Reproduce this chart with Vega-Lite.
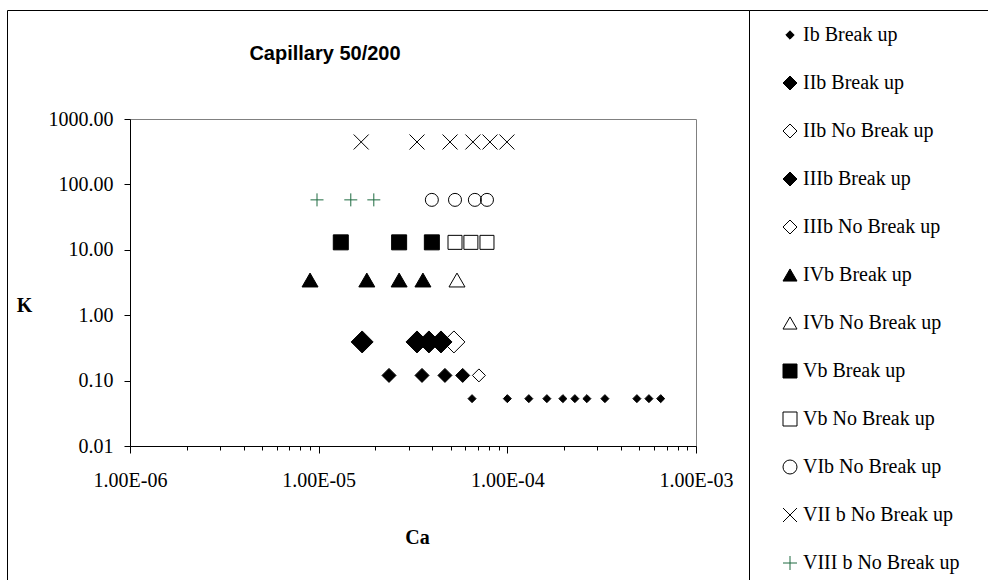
{
  "$schema": "https://vega.github.io/schema/vega-lite/v6.json",
  "width": 566,
  "height": 327,
  "autosize": {"type": "none"},
  "padding": {"left": 130, "top": 119, "right": 292, "bottom": 134},
  "background": "white",
  "title": {
    "text": "Capillary 50/200",
    "font": "Liberation Sans",
    "fontSize": 20,
    "fontWeight": "bold",
    "color": "black",
    "anchor": "middle",
    "baseline": "middle",
    "offset": 37,
    "dx": -88,
    "dy": 101
  },
  "data": {
    "values": [
      {"s": "Ib Break up", "Ca": 6.5e-5, "K": 0.053},
      {"s": "Ib Break up", "Ca": 1.0e-4, "K": 0.053},
      {"s": "Ib Break up", "Ca": 1.3e-4, "K": 0.053},
      {"s": "Ib Break up", "Ca": 1.62e-4, "K": 0.053},
      {"s": "Ib Break up", "Ca": 1.97e-4, "K": 0.053},
      {"s": "Ib Break up", "Ca": 2.28e-4, "K": 0.053},
      {"s": "Ib Break up", "Ca": 2.64e-4, "K": 0.053},
      {"s": "Ib Break up", "Ca": 3.29e-4, "K": 0.053},
      {"s": "Ib Break up", "Ca": 4.86e-4, "K": 0.053},
      {"s": "Ib Break up", "Ca": 5.63e-4, "K": 0.053},
      {"s": "Ib Break up", "Ca": 6.5e-4, "K": 0.053},
      {"s": "IIb Break up", "Ca": 2.36e-5, "K": 0.12},
      {"s": "IIb Break up", "Ca": 3.53e-5, "K": 0.12},
      {"s": "IIb Break up", "Ca": 4.67e-5, "K": 0.12},
      {"s": "IIb Break up", "Ca": 5.8e-5, "K": 0.12},
      {"s": "IIb No Break up", "Ca": 7.07e-5, "K": 0.12},
      {"s": "IIIb Break up", "Ca": 1.7e-5, "K": 0.39},
      {"s": "IIIb Break up", "Ca": 3.32e-5, "K": 0.39},
      {"s": "IIIb Break up", "Ca": 3.84e-5, "K": 0.39},
      {"s": "IIIb Break up", "Ca": 4.45e-5, "K": 0.39},
      {"s": "IIIb No Break up", "Ca": 5.21e-5, "K": 0.39},
      {"s": "IVb Break up", "Ca": 9.0e-6, "K": 3.45},
      {"s": "IVb Break up", "Ca": 1.8e-5, "K": 3.45},
      {"s": "IVb Break up", "Ca": 2.67e-5, "K": 3.45},
      {"s": "IVb Break up", "Ca": 3.57e-5, "K": 3.45},
      {"s": "IVb No Break up", "Ca": 5.41e-5, "K": 3.45},
      {"s": "Vb Break up", "Ca": 1.31e-5, "K": 13},
      {"s": "Vb Break up", "Ca": 2.67e-5, "K": 13},
      {"s": "Vb Break up", "Ca": 3.98e-5, "K": 13},
      {"s": "Vb No Break up", "Ca": 5.28e-5, "K": 13},
      {"s": "Vb No Break up", "Ca": 6.41e-5, "K": 13},
      {"s": "Vb No Break up", "Ca": 7.8e-5, "K": 13},
      {"s": "VIb No Break up", "Ca": 3.98e-5, "K": 58},
      {"s": "VIb No Break up", "Ca": 5.28e-5, "K": 58},
      {"s": "VIb No Break up", "Ca": 6.73e-5, "K": 58},
      {"s": "VIb No Break up", "Ca": 7.8e-5, "K": 58},
      {"s": "VII b No Break up", "Ca": 1.68e-5, "K": 445},
      {"s": "VII b No Break up", "Ca": 3.32e-5, "K": 445},
      {"s": "VII b No Break up", "Ca": 4.97e-5, "K": 445},
      {"s": "VII b No Break up", "Ca": 6.57e-5, "K": 445},
      {"s": "VII b No Break up", "Ca": 8.09e-5, "K": 445},
      {"s": "VII b No Break up", "Ca": 9.95e-5, "K": 445},
      {"s": "VIII b No Break up", "Ca": 9.8e-6, "K": 58},
      {"s": "VIII b No Break up", "Ca": 1.48e-5, "K": 58},
      {"s": "VIII b No Break up", "Ca": 1.96e-5, "K": 58}
    ]
  },
  "mark": {"type": "point", "opacity": 1, "strokeWidth": 1},
  "encoding": {
    "x": {
      "field": "Ca",
      "type": "quantitative",
      "scale": {"type": "log", "domain": [1e-6, 1e-3], "nice": false},
      "axis": {
        "values": [1e-6, 2e-6, 3e-6, 4e-6, 5e-6, 6e-6, 7e-6, 8e-6, 9e-6, 1e-5, 2e-5, 3e-5, 4e-5, 5e-5, 6e-5, 7e-5, 8e-5, 9e-5, 1e-4, 2e-4, 3e-4, 4e-4, 5e-4, 6e-4, 7e-4, 8e-4, 9e-4, 1e-3],
        "labelExpr": "abs(log(datum.value)/LN10 - round(log(datum.value)/LN10)) < 0.001 ? '1.00E-0' + (-round(log(datum.value)/LN10)) : ''",
        "tickSize": {"condition": {"test": "abs(log(datum.value)/LN10 - round(log(datum.value)/LN10)) < 0.001", "value": 7}, "value": 4},
        "labelPadding": 17,
        "title": "Ca",
        "titleX": 287,
        "titleY": 91,
        "titleBaseline": "middle",
        "titleAlign": "center"
      }
    },
    "y": {
      "field": "K",
      "type": "quantitative",
      "scale": {"type": "log", "domain": [0.01, 1000], "nice": false},
      "axis": {
        "values": [0.01, 0.1, 1, 10, 100, 1000],
        "format": ".2f",
        "tickSize": 6,
        "labelPadding": 11,
        "title": "K",
        "titleAngle": 0,
        "titleX": -106,
        "titleY": 186,
        "titleBaseline": "middle",
        "titleAlign": "center"
      }
    },
    "shape": {
      "field": "s",
      "type": "nominal",
      "scale": {
        "domain": ["Ib Break up", "IIb Break up", "IIb No Break up", "IIIb Break up", "IIIb No Break up", "IVb Break up", "IVb No Break up", "Vb Break up", "Vb No Break up", "VIb No Break up", "VII b No Break up", "VIII b No Break up"],
        "range": ["M-0.6,0L0,-0.6L0.6,0L0,0.6Z", "diamond", "diamond", "diamond", "diamond", "triangle-up", "triangle-up", "square", "square", "circle", "M-1,-1L1,1M-1,1L1,-1", "M-1,0L1,0M0,-1L0,1"]
      },
      "legend": {
        "title": "x",
        "titleOrient": "right",
        "titlePadding": 20,
        "titleOpacity": 0,
        "orient": "none",
        "legendX": 619,
        "legendY": -109,
        "padding": 15,
        "rowPadding": 28,
        "symbolOffset": 16,
        "labelOffset": 3,
        "strokeColor": "black",
        "fillColor": "white",
        "symbolSize": 196,
        "symbolStrokeWidth": 1,
        "labelFont": "Liberation Serif",
        "labelFontSize": 20,
        "labelColor": "black",
        "labelLimit": 400
      }
    },
    "fill": {
      "field": "s",
      "type": "nominal",
      "scale": {
        "domain": ["Ib Break up", "IIb Break up", "IIb No Break up", "IIIb Break up", "IIIb No Break up", "IVb Break up", "IVb No Break up", "Vb Break up", "Vb No Break up", "VIb No Break up", "VII b No Break up", "VIII b No Break up"],
        "range": ["black", "black", "transparent", "black", "transparent", "black", "transparent", "black", "transparent", "transparent", "transparent", "transparent"]
      }
    },
    "stroke": {
      "field": "s",
      "type": "nominal",
      "scale": {
        "domain": ["Ib Break up", "IIb Break up", "IIb No Break up", "IIIb Break up", "IIIb No Break up", "IVb Break up", "IVb No Break up", "Vb Break up", "Vb No Break up", "VIb No Break up", "VII b No Break up", "VIII b No Break up"],
        "range": ["black", "black", "black", "black", "black", "black", "black", "black", "black", "black", "black", "#1e6b40"]
      }
    },
    "size": {
      "field": "s",
      "type": "nominal",
      "scale": {
        "type": "ordinal",
        "domain": ["VIII b No Break up", "VII b No Break up", "VIb No Break up", "Vb No Break up", "Vb Break up", "IVb No Break up", "IVb Break up", "IIIb No Break up", "IIIb Break up", "IIb No Break up", "IIb Break up", "Ib Break up"],
        "range": [169, 225, 169, 196, 225, 256, 256, 484, 484, 169, 196, 178]
      },
      "legend": null
    },
    "opacity": {
      "field": "s",
      "type": "nominal",
      "scale": {"type": "ordinal", "range": [1]},
      "legend": {
        "title": null,
        "orient": "none",
        "legendX": -123,
        "legendY": -109,
        "values": ["Ib Break up"],
        "labelExpr": "''",
        "labelOffset": 0,
        "symbolOffset": 0,
        "padding": 0,
        "symbolType": "M-1,-1M1,1",
        "symbolSize": 550564,
        "symbolStrokeWidth": 0,
        "strokeColor": "black",
        "fillColor": "transparent"
      }
    }
  },
  "config": {
    "view": {"stroke": "#808080", "strokeWidth": 1},
    "axis": {
      "domainColor": "black",
      "domainWidth": 1,
      "tickColor": "black",
      "tickWidth": 1,
      "grid": false,
      "labelFont": "Liberation Serif",
      "labelFontSize": 20,
      "labelColor": "black",
      "labelFlush": false,
      "labelOverlap": false,
      "titleFont": "Liberation Serif",
      "titleFontSize": 20,
      "titleFontWeight": "bold",
      "titleColor": "black"
    }
  }
}
